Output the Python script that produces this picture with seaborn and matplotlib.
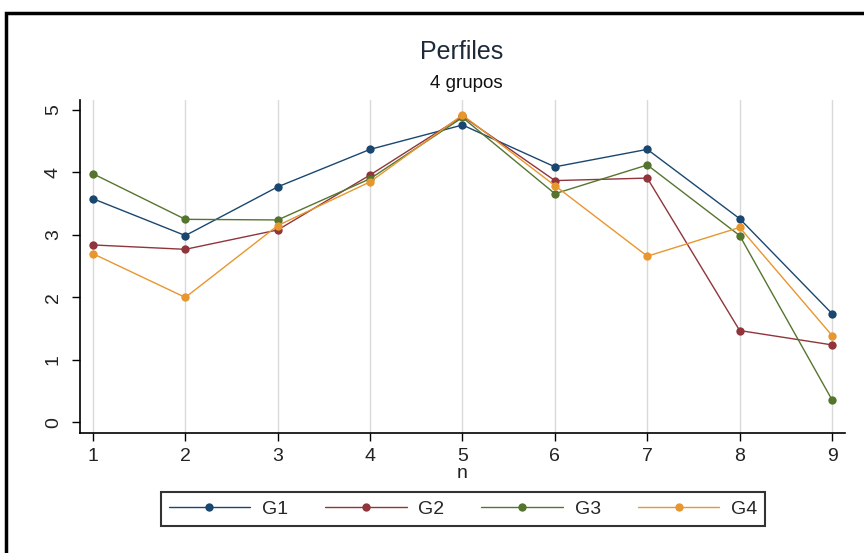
import matplotlib
matplotlib.use("Agg")
import matplotlib.pyplot as plt
import seaborn as sns
import pandas as pd
from matplotlib.patches import Rectangle

# Profile means per group across the 9 items
n = [1, 2, 3, 4, 5, 6, 7, 8, 9]
g1 = [3.58, 2.99, 3.77, 4.37, 4.76, 4.09, 4.37, 3.26, 1.74]
g2 = [2.84, 2.77, 3.08, 3.96, 4.90, 3.87, 3.91, 1.47, 1.24]
g3 = [3.98, 3.25, 3.24, 3.90, 4.88, 3.66, 4.12, 2.99, 0.36]
g4 = [2.70, 2.00, 3.15, 3.85, 4.92, 3.79, 2.66, 3.12, 1.39]
groups = ["G1", "G2", "G3", "G4"]
colors = ["#1a476f", "#90353b", "#55752f", "#e8962e"]
y_ticks = [0, 1, 2, 3, 4, 5]

df = pd.DataFrame({
    "n": n * 4,
    "valor": g1 + g2 + g3 + g4,
    "grupo": [g for g in groups for _ in n],
})

sns.set_theme(style="white")
plt.rcParams["font.family"] = ["Liberation Sans", "DejaVu Sans"]

fig = plt.figure(figsize=(8.64, 5.53), dpi=100)
ax = fig.add_axes([80 / 864, 1 - 433 / 553, 765 / 864, 333 / 553])

sns.lineplot(data=df, x="n", y="valor", hue="grupo", palette=colors,
             marker="o", markersize=6, markeredgewidth=0, linewidth=1.0,
             ax=ax, legend=False)

ax.set_xlim(0.86, 9.14)
ax.set_ylim(-0.17, 5.16)
ax.set_xticks(n)
ax.set_yticks(y_ticks)
ax.set_yticklabels([str(v) for v in y_ticks], rotation=90, va="center")
ax.tick_params(axis="both", which="major", left=True, bottom=True,
               direction="out", length=6, width=1, color="black",
               labelsize=14, labelcolor="#222222")
ax.tick_params(axis="x", pad=5)
ax.tick_params(axis="y", pad=7)
ax.set_xlabel("n", fontsize=14, color="#222222", labelpad=0)
ax.set_ylabel("")

for x in n:
    ax.axvline(x, color="#d9d9d9", linewidth=1.0, zorder=0)

for side in ["top", "right"]:
    ax.spines[side].set_visible(False)
for side in ["left", "bottom"]:
    ax.spines[side].set_color("black")
    ax.spines[side].set_linewidth(1.2)

fig.text(462 / 864, 1 - 52 / 553, "Perfiles", ha="center", va="center",
         fontsize=18, color="#1e2a3a")
fig.text(466 / 864, 1 - 83 / 553, "4 grupos", ha="center", va="center",
         fontsize=13.5, color="#111111")

handles = [plt.Line2D([], [], color=c, linewidth=1.0, marker="o",
                      markersize=6, markeredgewidth=0) for c in colors]
leg = fig.legend(handles, groups, loc="center", ncol=4,
                 bbox_to_anchor=(463 / 864, 1 - 509 / 553),
                 fontsize=14, handlelength=4.2, handletextpad=0.6,
                 columnspacing=1.9, frameon=True, fancybox=False,
                 borderpad=0.4, borderaxespad=0)
leg.get_frame().set_edgecolor("black")
leg.get_frame().set_linewidth(1.5)

# Outer frame of the graph region
fig.patches.append(Rectangle((6 / 864, -0.1), 1.0, 1 - 13 / 553 + 0.1,
                             transform=fig.transFigure, fill=False,
                             edgecolor="black", linewidth=2.5))

fig.savefig("out.png", dpi=100)
